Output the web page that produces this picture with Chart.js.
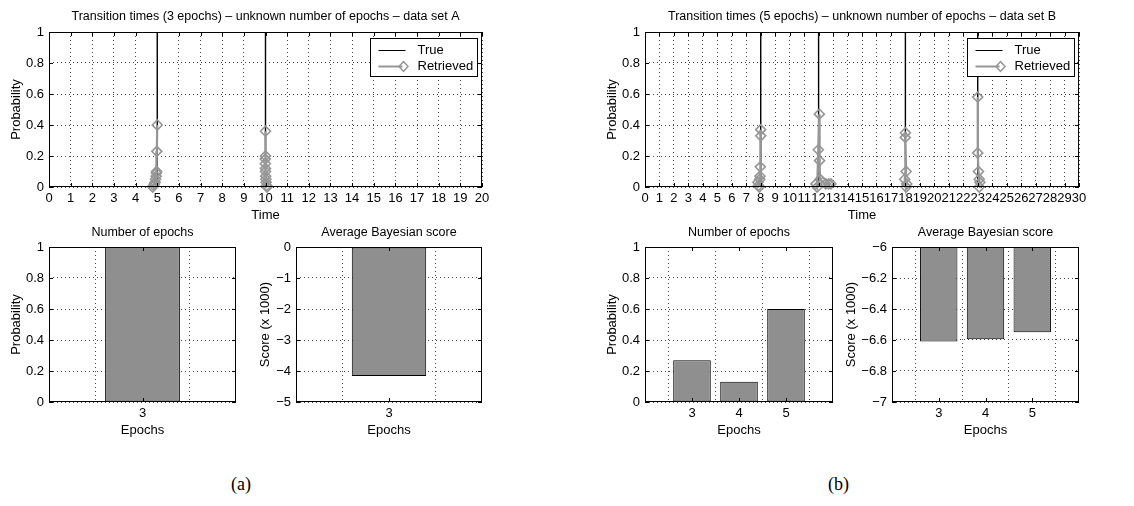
<!DOCTYPE html>
<html>
<head>
<meta charset="utf-8">
<script src="https://cdn.jsdelivr.net/npm/chart.js@4.4.1/dist/chart.umd.min.js"></script>
<style>
  body { margin: 0; background: #fff; width: 1134px; height: 506px; position: relative; overflow: hidden; }
  canvas { position: absolute; }
  .cap { position: absolute; font-family: "Liberation Serif", "DejaVu Serif", serif; font-size: 18px; color: #000; }
</style>
</head>
<body>
<canvas id="timesA"></canvas>
<canvas id="timesB"></canvas>
<canvas id="epochsA"></canvas>
<canvas id="scoreA"></canvas>
<canvas id="epochsB"></canvas>
<canvas id="scoreB"></canvas>
<div class="cap" style="left:231px;top:474px">(a)</div>
<div class="cap" style="left:828px;top:474px">(b)</div>
<script>
// --- data set A ---
const timeMaxA = 20;
const trueTimesA = [5, 10];
const retrievedTimesA = [
  [5.0, 4.98, 4.97, 4.96, 4.95, 4.92, 4.9, 4.87, 4.83, 4.79],
  [10.0, 10.0, 9.99, 9.99, 10.0, 10.0, 10.01, 10.02, 10.03, 10.05, 10.07]
];
const retrievedProbA = [
  [0.40, 0.23, 0.10, 0.09, 0.07, 0.05, 0.03, 0.02, 0.01, 0.0],
  [0.36, 0.20, 0.18, 0.15, 0.12, 0.10, 0.07, 0.05, 0.03, 0.01, 0.0]
];
const epochLabelsA = ['3'];
const epochProbA = [1];
const epochScoreA = [-4.16];

// --- data set B ---
const timeMaxB = 30;
const trueTimesB = [8, 12, 18, 23];
const retrievedTimesB = [
  [8.0, 8.0, 7.97, 7.95, 7.93, 7.8, 7.85, 7.9],
  [11.82, 11.9, 11.98, 12.05, 12.07, 12.1, 12.3, 12.5, 12.7, 12.85],
  [18.0, 17.99, 18.05, 17.95, 18.1, 18.05],
  [23.0, 23.0, 23.05, 23.1, 23.15, 23.1]
];
const retrievedProbB = [
  [0.37, 0.33, 0.13, 0.07, 0.05, 0.03, 0.01, 0.0],
  [0.02, 0.0, 0.24, 0.47, 0.17, 0.05, 0.03, 0.02, 0.02, 0.02],
  [0.35, 0.32, 0.10, 0.05, 0.02, 0.0],
  [0.58, 0.22, 0.10, 0.05, 0.03, 0.0]
];
const epochLabelsB = ['3', '4', '5'];
const epochProbB = [0.27, 0.13, 0.60];
const epochScoreB = [-6.61, -6.595, -6.55];

const FONT = '"Liberation Sans", Arial, Helvetica, sans-serif';
Chart.defaults.font.family = FONT;
Chart.defaults.font.size = 13;
Chart.defaults.color = '#000';

const GRAY = '#969696';
const BAR = '#8f8f8f';

function fmt(v) {
  return String(+(+v).toFixed(2)).replace('-', '\u2212');
}

// stem-like true transition line along the time axis
function trueLine(times, tmax) {
  const pts = [{ x: 0, y: 0 }];
  times.forEach(t => pts.push({ x: t, y: 0 }, { x: t, y: 1 }, { x: t, y: 0 }));
  pts.push({ x: tmax, y: 0 });
  return pts;
}

// retrieved clusters, separated by gaps (y: null breaks the line)
function retrievedLine(times, probs) {
  const pts = [];
  times.forEach((ts, k) => {
    if (k > 0) pts.push({ x: ts[0], y: null });
    ts.forEach((t, i) => pts.push({ x: t, y: probs[k][i] }));
  });
  return pts;
}

function place(id, box, m) {
  const c = document.getElementById(id);
  const w = box.r - box.l + m.l + m.r;
  const h = box.b - box.t + m.t + m.b;
  c.style.left = (box.l - m.l) + 'px';
  c.style.top = (box.t - m.t) + 'px';
  c.width = w; c.height = h;
  c.style.width = w + 'px'; c.style.height = h + 'px';
  return c;
}

const framePlugin = {
  id: 'frame',
  afterDraw(chart, args, opts) {
    const { ctx, chartArea: a, scales } = chart;
    ctx.save();
    ctx.strokeStyle = '#000';
    ctx.lineWidth = 1;
    ctx.beginPath();
    const xs = scales.x;
    xs.ticks.forEach((t, i) => {
      if (opts.bars && (i === 0 || i === xs.ticks.length - 1)) return;
      const x = Math.round(xs.getPixelForTick(i)) + 0.5;
      ctx.moveTo(x, a.bottom); ctx.lineTo(x, a.bottom - 4);
      ctx.moveTo(x, a.top); ctx.lineTo(x, a.top + 4);
    });
    const ys = scales.y;
    ys.ticks.forEach((t, i) => {
      const y = Math.round(ys.getPixelForTick(i)) + 0.5;
      ctx.moveTo(a.left, y); ctx.lineTo(a.left + 4, y);
      ctx.moveTo(a.right, y); ctx.lineTo(a.right - 4, y);
    });
    ctx.stroke();
    ctx.strokeRect(Math.round(a.left) + 0.5, Math.round(a.top) + 0.5,
      Math.round(a.width) - 1, Math.round(a.height) - 1);

    if (opts.legend) {
      const bx = Math.round(a.right - 112) + 0.5, by = Math.round(a.top + 6) + 0.5;
      ctx.fillStyle = '#fff';
      ctx.fillRect(bx, by, 107, 38);
      ctx.strokeStyle = '#000';
      ctx.lineWidth = 1;
      ctx.strokeRect(bx, by, 107, 38);
      ctx.beginPath();
      ctx.moveTo(bx + 8, by + 12); ctx.lineTo(bx + 35, by + 12);
      ctx.stroke();
      ctx.strokeStyle = GRAY;
      ctx.lineWidth = 2;
      ctx.beginPath();
      ctx.moveTo(bx + 8, by + 28); ctx.lineTo(bx + 32, by + 28);
      ctx.stroke();
      ctx.lineWidth = 1.5;
      ctx.beginPath();
      const dx = bx + 33, dy = by + 28;
      ctx.moveTo(dx, dy - 5); ctx.lineTo(dx + 4.5, dy); ctx.lineTo(dx, dy + 5); ctx.lineTo(dx - 4.5, dy); ctx.closePath();
      ctx.stroke();
      ctx.fillStyle = '#000';
      ctx.font = '13px ' + FONT;
      ctx.textAlign = 'left';
      ctx.textBaseline = 'middle';
      ctx.fillText('True', bx + 47, by + 12);
      ctx.fillText('Retrieved', bx + 47, by + 28);
    }

    ctx.fillStyle = '#000';
    ctx.font = '12.5px ' + FONT;
    ctx.textAlign = 'center';
    ctx.textBaseline = 'middle';
    const cx = (a.left + a.right) / 2;
    ctx.fillText(opts.title, cx, a.top - opts.titleGap);
    ctx.font = '13px ' + FONT;
    ctx.fillText(opts.xTitle, cx, a.bottom + 28);
    ctx.translate(a.left - opts.yGap, (a.top + a.bottom) / 2);
    ctx.rotate(-Math.PI / 2);
    ctx.fillText(opts.yTitle, 0, 0);
    ctx.restore();
  }
};

const dotted = { color: '#4a4a4a', lineWidth: 1, drawTicks: false };
const noBorder = { display: false, dash: [1, 3] };

function baseOptions(m, frame, xScale, yScale) {
  return {
    responsive: false,
    animation: false,
    layout: { padding: { top: m.t, right: m.r, left: 0, bottom: 0 } },
    plugins: { legend: { display: false }, tooltip: { enabled: false }, frame: frame },
    scales: {
      x: Object.assign({ grid: dotted, border: noBorder, afterFit: s => { s.height = m.b; } }, xScale),
      y: Object.assign({ grid: dotted, border: noBorder, afterFit: s => { s.width = m.l; } }, yScale)
    }
  };
}

function timesChart(id, box, m, title, tmax, trueTimes, rTimes, rProbs) {
  const c = place(id, box, m);
  new Chart(c, {
    type: 'scatter',
    data: {
      datasets: [
        {
          label: 'True', order: 1, data: trueLine(trueTimes, tmax), showLine: true,
          borderColor: '#000', borderWidth: 1.4, pointRadius: 0
        },
        {
          label: 'Retrieved', order: 0, data: retrievedLine(rTimes, rProbs), showLine: true, spanGaps: false,
          borderColor: GRAY, borderWidth: 2.2, pointStyle: 'rectRot', pointRadius: 5,
          pointBorderColor: GRAY, pointBackgroundColor: 'rgba(0,0,0,0)', pointBorderWidth: 1.6, clip: false
        }
      ]
    },
    options: baseOptions(m,
      { title: title, xTitle: 'Time', yTitle: 'Probability', titleGap: 15, yGap: 33, legend: true },
      { type: 'linear', min: 0, max: tmax,
        ticks: { stepSize: 1, autoSkip: false, maxRotation: 0, padding: 4, callback: fmt } },
      { type: 'linear', min: 0, max: 1,
        ticks: { stepSize: 0.2, padding: 5, callback: fmt } }),
    plugins: [framePlugin]
  });
}

function barChart(id, box, m, title, yTitle, yGap, labels, values, yMin, yMax, yStep) {
  const c = place(id, box, m);
  const padded = [''].concat(labels, ['']);
  new Chart(c, {
    type: 'bar',
    data: {
      labels: padded,
      datasets: [{
        data: [null].concat(values, [null]),
        backgroundColor: BAR, borderColor: '#000', borderWidth: 1, borderSkipped: false,
        categoryPercentage: 0.8, barPercentage: 1
      }]
    },
    options: baseOptions(m,
      { title: title, xTitle: 'Epochs', yTitle: yTitle, titleGap: 14, yGap: yGap, bars: true },
      { type: 'category', offset: false,
        ticks: { autoSkip: false, maxRotation: 0, padding: 4 } },
      { type: 'linear', min: yMin, max: yMax,
        ticks: { stepSize: yStep, padding: 5, callback: fmt } }),
    plugins: [framePlugin]
  });
}

timesChart('timesA', { l: 49, t: 32, r: 482, b: 187 }, { l: 49, t: 32, r: 15, b: 40 },
  'Transition times (3 epochs) \u2013 unknown number of epochs \u2013 data set A',
  timeMaxA, trueTimesA, retrievedTimesA, retrievedProbA);

timesChart('timesB', { l: 645, t: 32, r: 1079, b: 187 }, { l: 60, t: 32, r: 12, b: 40 },
  'Transition times (5 epochs) \u2013 unknown number of epochs \u2013 data set B',
  timeMaxB, trueTimesB, retrievedTimesB, retrievedProbB);

barChart('epochsA', { l: 49, t: 247, r: 236, b: 402 }, { l: 49, t: 24, r: 10, b: 40 },
  'Number of epochs', 'Probability', 33, epochLabelsA, epochProbA, 0, 1, 0.2);

barChart('scoreA', { l: 296, t: 247, r: 482, b: 402 }, { l: 45, t: 24, r: 10, b: 40 },
  'Average Bayesian score', 'Score (x 1000)', 31, epochLabelsA, epochScoreA, -5, 0, 1);

barChart('epochsB', { l: 645, t: 247, r: 833, b: 402 }, { l: 60, t: 24, r: 8, b: 40 },
  'Number of epochs', 'Probability', 33, epochLabelsB, epochProbB, 0, 1, 0.2);

barChart('scoreB', { l: 892, t: 247, r: 1079, b: 402 }, { l: 50, t: 24, r: 10, b: 40 },
  'Average Bayesian score', 'Score (x 1000)', 41, epochLabelsB, epochScoreB, -7, -6, 0.2);
</script>
</body>
</html>
